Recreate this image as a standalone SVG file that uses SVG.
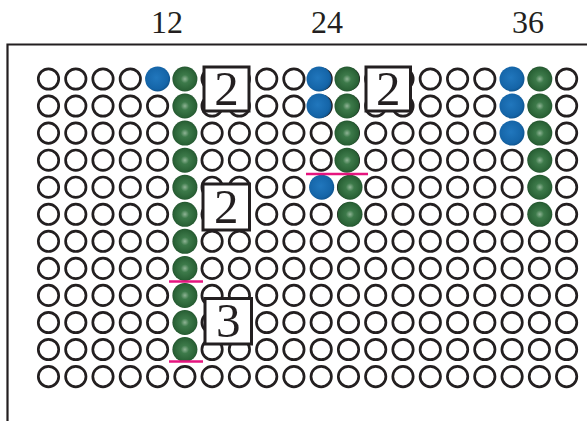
<svg xmlns="http://www.w3.org/2000/svg" width="587" height="421" viewBox="0 0 587 421">
<style>
.o{fill:#fff;stroke:#231f20;stroke-width:2.7}
.b{fill:url(#gb)}
.g{fill:url(#gg)}
.box{fill:#fff;stroke:#231f20;stroke-width:3}
.lab{font-family:"Liberation Serif",serif;font-size:32px;fill:#231f20;text-anchor:middle}
.num{font-family:"Liberation Serif",serif;font-size:49px;fill:#231f20;text-anchor:middle}
.pk{stroke:#e6157f;stroke-width:2.5}
</style>
<defs>
<radialGradient id="gb" cx="0.45" cy="0.45" r="0.6">
<stop offset="0" stop-color="#2177bd"/><stop offset="0.75" stop-color="#1565a8"/><stop offset="1" stop-color="#0e4f86"/>
</radialGradient>
<radialGradient id="gg" cx="0.5" cy="0.5" r="0.55">
<stop offset="0" stop-color="#8fb495"/><stop offset="0.3" stop-color="#3d7a4a"/><stop offset="0.8" stop-color="#2a6236"/><stop offset="1" stop-color="#1e4a28"/>
</radialGradient>
<g id="row">
<circle class="o" cx="48.5" cy="0" r="10.2"/><circle class="o" cx="75.8" cy="0" r="10.2"/><circle class="o" cx="103" cy="0" r="10.2"/><circle class="o" cx="130.3" cy="0" r="10.2"/><circle class="o" cx="157.6" cy="0" r="10.2"/><circle class="o" cx="184.9" cy="0" r="10.2"/><circle class="o" cx="212.1" cy="0" r="10.2"/><circle class="o" cx="239.4" cy="0" r="10.2"/><circle class="o" cx="266.7" cy="0" r="10.2"/><circle class="o" cx="293.9" cy="0" r="10.2"/><circle class="o" cx="321.2" cy="0" r="10.2"/><circle class="o" cx="348.5" cy="0" r="10.2"/><circle class="o" cx="375.7" cy="0" r="10.2"/><circle class="o" cx="403" cy="0" r="10.2"/><circle class="o" cx="430.3" cy="0" r="10.2"/><circle class="o" cx="457.6" cy="0" r="10.2"/><circle class="o" cx="484.8" cy="0" r="10.2"/><circle class="o" cx="512.1" cy="0" r="10.2"/><circle class="o" cx="539.4" cy="0" r="10.2"/><circle class="o" cx="566.6" cy="0" r="10.2"/>
</g>
</defs>
<g id="frame" fill="none" stroke="#231f20" stroke-width="2.2">
<path d="M7.5 421V44.5H587"/>
</g>
<g id="labels">
<text class="lab" x="167" y="32.5">12</text>
<text class="lab" x="327" y="32.5">24</text>
<text class="lab" x="528" y="32.5">36</text>
</g>
<g id="grid">
<use href="#row" y="79"/><use href="#row" y="106"/><use href="#row" y="133.1"/><use href="#row" y="160.2"/><use href="#row" y="187.2"/><use href="#row" y="214.3"/><use href="#row" y="241.3"/><use href="#row" y="268.4"/><use href="#row" y="295.4"/><use href="#row" y="322.5"/><use href="#row" y="349.5"/><use href="#row" y="376.6"/>
</g>
<g id="beads-left">
<circle class="b" cx="157.6" cy="79" r="12.5"/>
<circle class="g" cx="184.9" cy="79" r="12.5"/><circle class="g" cx="184.9" cy="106" r="12.5"/><circle class="g" cx="184.9" cy="133.1" r="12.5"/><circle class="g" cx="184.9" cy="160.2" r="12.5"/><circle class="g" cx="184.9" cy="187.2" r="12.5"/><circle class="g" cx="184.9" cy="214.3" r="12.5"/><circle class="g" cx="184.9" cy="241.3" r="12.5"/><circle class="g" cx="184.9" cy="268.4" r="12.5"/><circle class="g" cx="184.9" cy="295.4" r="12.5"/><circle class="g" cx="184.9" cy="322.5" r="12.5"/><circle class="g" cx="184.9" cy="349.5" r="12.5"/>
</g>
<g id="beads-mid">
<circle class="b" cx="319" cy="79" r="12.5"/><circle class="b" cx="319" cy="106" r="12.5"/>
<circle class="g" cx="347" cy="79" r="12.5"/><circle class="g" cx="347" cy="106" r="12.5"/><circle class="g" cx="347" cy="133.1" r="12.5"/><circle class="g" cx="347" cy="160.2" r="12.5"/>
<circle class="b" cx="321.7" cy="187.2" r="12.5"/>
<circle class="g" cx="350" cy="187.2" r="12.5"/><circle class="g" cx="350" cy="214.3" r="12.5"/>
</g>
<g id="beads-right">
<circle class="b" cx="512" cy="79" r="12.5"/><circle class="b" cx="512" cy="106" r="12.5"/><circle class="b" cx="512" cy="133.1" r="12.5"/>
<circle class="g" cx="539.8" cy="79" r="12.5"/><circle class="g" cx="539.8" cy="106" r="12.5"/><circle class="g" cx="539.8" cy="133.1" r="12.5"/><circle class="g" cx="539.8" cy="160.2" r="12.5"/><circle class="g" cx="539.8" cy="187.2" r="12.5"/><circle class="g" cx="539.8" cy="214.3" r="12.5"/>
</g>
<g id="marks">
<line class="pk" x1="169" y1="281.5" x2="203" y2="281.5"/>
<line class="pk" x1="169" y1="361.5" x2="203" y2="361.5"/>
<line class="pk" x1="306" y1="174" x2="368" y2="174"/>
</g>
<g id="box1"><rect class="box" x="204" y="67" width="45" height="44"/><text class="num" x="226.5" y="104.5">2</text></g>
<g id="box2"><rect class="box" x="366" y="67" width="44.5" height="44"/><text class="num" x="388.3" y="104.5">2</text></g>
<g id="box3"><rect class="box" x="203" y="184" width="46.5" height="46"/><text class="num" x="226.3" y="222.5">2</text></g>
<g id="box4"><rect class="box" x="205" y="298.5" width="46.5" height="45.5"/><text class="num" x="228.3" y="336.5">3</text></g>
</svg>
